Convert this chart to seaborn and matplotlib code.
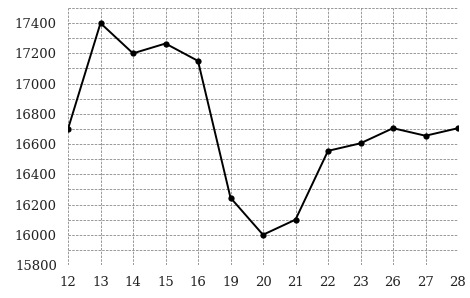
import matplotlib
matplotlib.use("Agg")
import matplotlib.pyplot as plt
import seaborn as sns
import numpy as np
import pandas as pd

days = ["12", "13", "14", "15", "16", "19", "20", "21", "22", "23", "26", "27", "28"]
values = [16700, 17400, 17200, 17265, 17150, 16245, 16000, 16100, 16555, 16605, 16705, 16655, 16705]
y_ticks = [15800, 16000, 16200, 16400, 16600, 16800, 17000, 17200, 17400]

sns.set_style("white")
plt.rcParams['font.family'] = ['DejaVu Serif']

df = pd.DataFrame({"day": days, "value": values})

fig = plt.figure(figsize=(4.70, 2.98), dpi=100)
ax = fig.add_axes([68/470, 33/298, 390/470, 257/298])

sns.lineplot(data=df, x="day", y="value", ax=ax, color="black", linewidth=1.4,
             marker="o", markersize=4.5, markeredgewidth=0, sort=False, zorder=3)

ax.set_xlim(0, len(days) - 1)
ax.set_ylim(15800, 17500)
ax.set_yticks(y_ticks)
ax.set_yticks(np.arange(15800, 17501, 100), minor=True)
ax.set_xticks(range(len(days)))
ax.set_xticklabels(days)
ax.grid(True, which="both", axis="y", color="#888888", linestyle=(0, (3, 1.5)), linewidth=0.6)
ax.grid(True, which="major", axis="x", color="#888888", linestyle=(0, (3, 1.5)), linewidth=0.6)
ax.tick_params(axis="both", which="both", length=0, labelsize=9.5, colors="#222222")
ax.tick_params(axis="y", pad=8)
ax.tick_params(axis="x", pad=8)
for s in ax.spines.values():
    s.set_visible(False)
ax.set_xlabel("")
ax.set_ylabel("")

fig.savefig("out.png", dpi=100)
